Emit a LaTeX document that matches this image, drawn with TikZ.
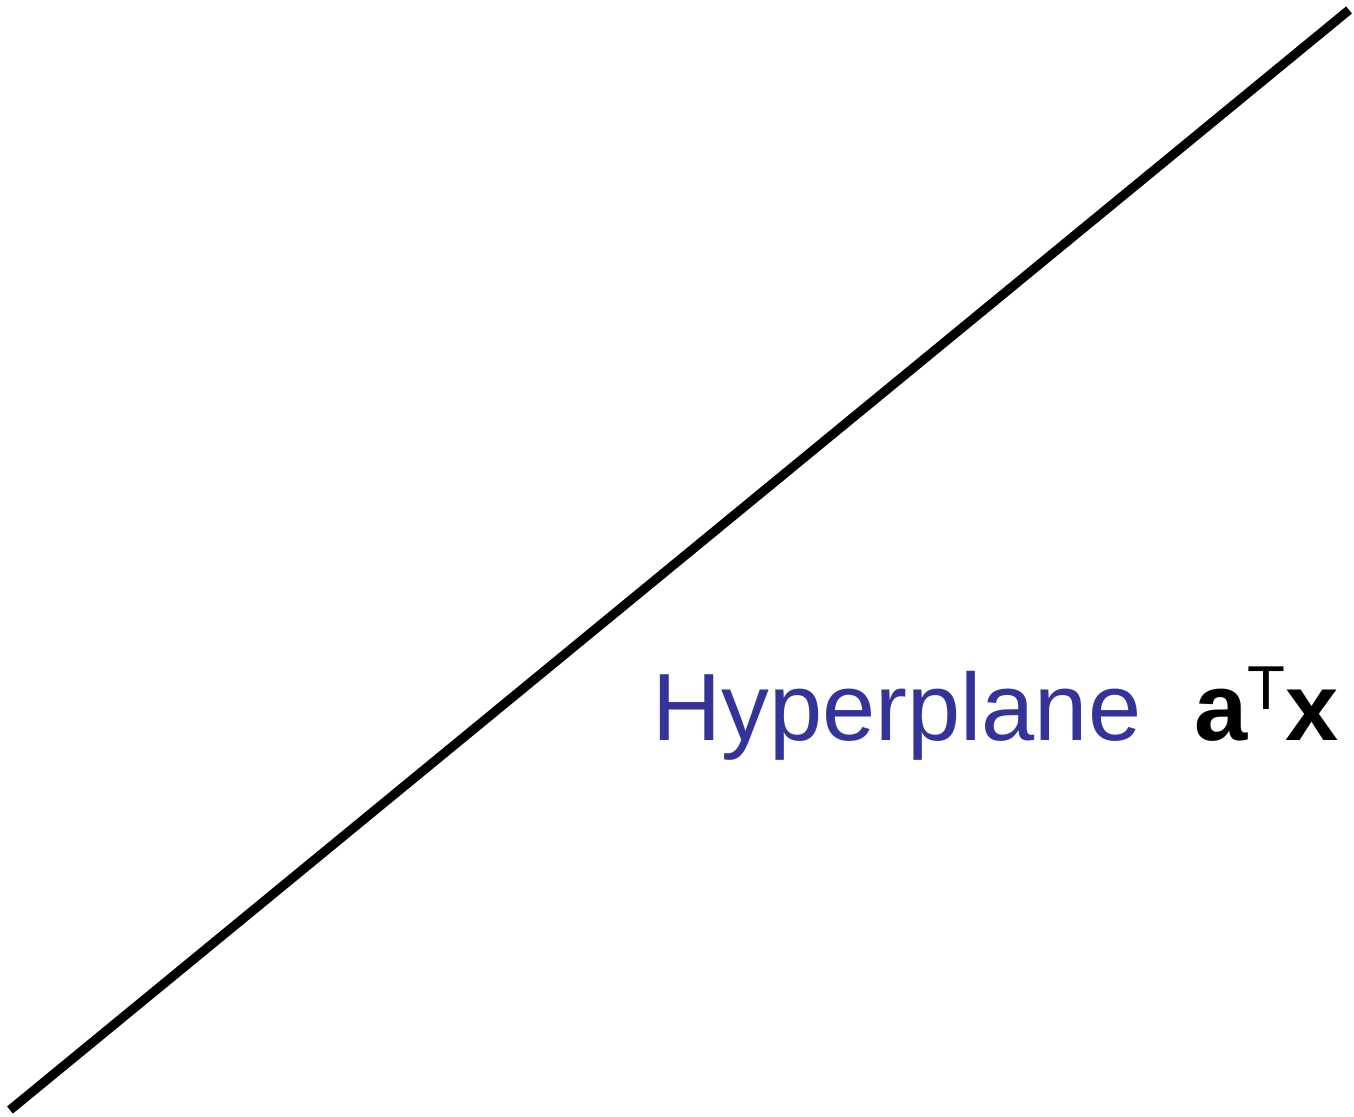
\documentclass[tikz,border=0pt]{standalone}
\usepackage{fontspec}
\setmainfont{Liberation Sans}
\definecolor{planeblue}{RGB}{51,51,153}

\begin{document}
\begin{tikzpicture}[x=0.5pt,y=0.5pt]
\useasboundingbox (0,0) rectangle (1354,1116);
\draw[line width=4.6pt] (10,6) -- (1349,1106);
\node[anchor=base west,inner sep=0pt,font=\fontsize{47.8}{58}\selectfont] (label) at (652,376)
  {\textcolor{planeblue}{Hyperplane}\ \ {\bfseries a}\raisebox{15.5pt}{\fontsize{31}{31}\selectfont T}{\bfseries x}};
\end{tikzpicture}
\end{document}
